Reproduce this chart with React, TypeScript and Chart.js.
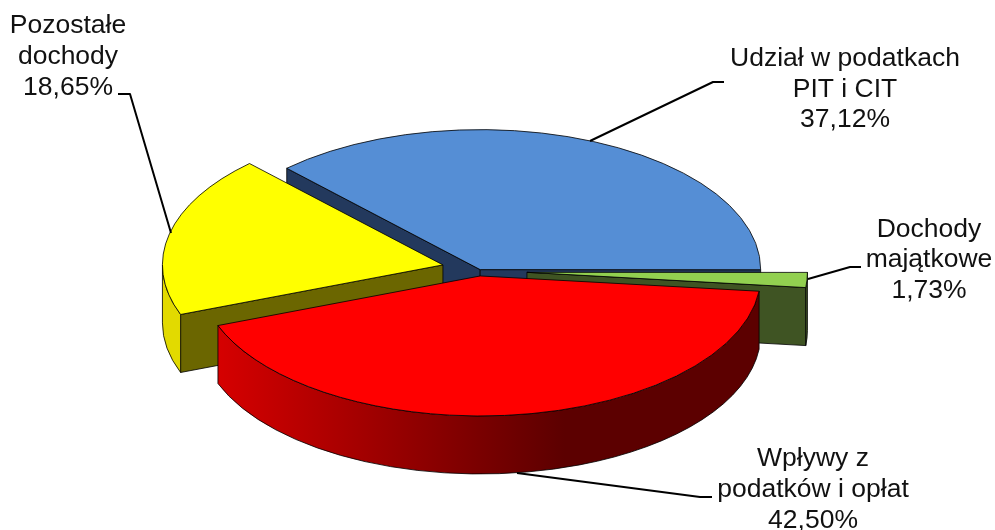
import { useEffect, useRef } from "react";
import { Chart, registerables } from "chart.js";

Chart.register(...registerables);

// ---- data ----
const categories = ["Udział w podatkach PIT i CIT", "Dochody majątkowe", "Wpływy z podatków i opłat", "Pozostałe dochody"];
const labelLines = [
  ["Udział w podatkach", "PIT i CIT"],
  ["Dochody", "majątkowe"],
  ["Wpływy z", "podatków i opłat"],
  ["Pozostałe", "dochody"],
];
const shares = [37.12, 1.73, 42.5, 18.65];
const explosion = [3, 48, 10, 37];

// ---- styles ----
const liftY = [0, 0, 0, -2];
const topColors = ["#558ed5", "#92d050", "#ff0000", "#ffff00"];
const cutColors = ["#23395d", "#3f5423", "#7f0000", "#6b6600"];
const FONT = '26.5px "Liberation Sans", Arial, sans-serif';
const view = { cx: 479, cy: 271, rx: 280.5, ry: 140, depth: 58, rotation: -43.6 };
const leaders = [
  [[590, 141], [713, 82], [724, 82]],
  [[808, 279], [850, 267], [861, 267]],
  [[517, 473], [700, 497], [712, 497]],
  [[118, 94], [130, 94], [171, 233]],
];
const labelPlaces = [
  { x: 845, ys: [66, 97, 127] },
  { x: 929, ys: [237, 267, 298] },
  { x: 813, ys: [466, 497, 528] },
  { x: 68, ys: [33, 64, 95] },
];
const drawOrder = [0, 1, 3, 2];

const pie3d = {
  id: "pie3d",
  beforeDatasetsDraw(chart: any) {
    const ctx: CanvasRenderingContext2D = chart.ctx;
    const arcs = chart.getDatasetMeta(0).data;
    const { rx, ry, depth } = view;
    const edge = "rgba(0,0,0,0.8)";

    for (const i of drawOrder) {
      const arc = arcs[i];
      const a0: number = arc.startAngle;
      const a1: number = arc.endAngle;
      const mid = (a0 + a1) / 2;
      const ox = view.cx + explosion[i] * Math.cos(mid);
      const oy = view.cy + explosion[i] * Math.sin(mid) * 0.5 + liftY[i];
      const pt = (a: number) => [ox + rx * Math.cos(a), oy + ry * Math.sin(a)];

      ctx.save();
      ctx.lineWidth = 1;
      ctx.strokeStyle = edge;
      ctx.lineJoin = "round";

      // radial cut faces that turn towards the viewer
      const faces: number[] = [];
      if (-Math.cos(a0) > 0) faces.push(a0);
      if (Math.cos(a1) > 0) faces.push(a1);
      for (const a of faces) {
        const [x, y] = pt(a);
        ctx.beginPath();
        ctx.moveTo(ox, oy);
        ctx.lineTo(x, y);
        ctx.lineTo(x, y + depth);
        ctx.lineTo(ox, oy + depth);
        ctx.closePath();
        ctx.fillStyle = cutColors[i];
        ctx.fill();
        ctx.stroke();
      }

      // visible outer wall: the part of the rim on the viewer's side
      const TAU = Math.PI * 2;
      let s = a0;
      let e = a1;
      while (s < 0) { s += TAU; e += TAU; }
      const ws = s;
      const we = Math.min(e, Math.PI);
      if (ws < Math.PI && we > ws) {
        ctx.beginPath();
        ctx.ellipse(ox, oy, rx, ry, 0, ws, we);
        ctx.ellipse(ox, oy + depth, rx, ry, 0, we, ws, true);
        ctx.closePath();
        if (i === 2) {
          const g = ctx.createLinearGradient(ox - rx, 0, ox + rx, 0);
          g.addColorStop(0, "#dc0000");
          g.addColorStop(0.65, "#5c0000");
          g.addColorStop(1, "#5c0000");
          ctx.fillStyle = g;
        } else if (i === 3) {
          ctx.fillStyle = "#e2da00";
        } else {
          ctx.fillStyle = cutColors[i];
        }
        ctx.fill();
        ctx.stroke();
      }

      // top face: the library's own arc, seen at an angle
      ctx.save();
      ctx.translate(ox, oy);
      ctx.scale(rx / arc.outerRadius, ry / arc.outerRadius);
      ctx.translate(-arc.x, -arc.y);
      arc.draw(ctx);
      ctx.restore();

      ctx.beginPath();
      ctx.moveTo(ox, oy);
      ctx.ellipse(ox, oy, rx, ry, 0, a0, a1);
      ctx.closePath();
      ctx.stroke();
      ctx.restore();
    }

    // leader lines
    ctx.save();
    ctx.strokeStyle = "#000";
    ctx.lineWidth = 2;
    ctx.lineJoin = "round";
    for (const pts of leaders) {
      ctx.beginPath();
      pts.forEach(([x, y], k) => (k ? ctx.lineTo(x, y) : ctx.moveTo(x, y)));
      ctx.stroke();
    }

    // labels
    ctx.fillStyle = "#111";
    ctx.font = FONT;
    ctx.textAlign = "center";
    ctx.textBaseline = "alphabetic";
    labelLines.forEach((lines, i) => {
      const place = labelPlaces[i];
      const text = [...lines, shares[i].toFixed(2).replace(".", ",") + "%"];
      text.forEach((t, k) => ctx.fillText(t, place.x, place.ys[k]));
    });
    ctx.restore();
    return false;
  },
};

export default function App() {
  const ref = useRef<HTMLCanvasElement>(null);
  useEffect(() => {
    document.body.style.margin = "0";
    document.body.style.background = "#fff";
    const chart = new Chart(ref.current!, {
      type: "pie",
      data: {
        labels: categories,
        datasets: [{ data: shares, backgroundColor: topColors, borderWidth: 0 }],
      },
      options: {
        animation: false,
        responsive: false,
        rotation: view.rotation,
        plugins: { legend: { display: false }, tooltip: { enabled: false } },
      },
      plugins: [pie3d],
    } as any);
    return () => chart.destroy();
  }, []);
  return <canvas ref={ref} width={995} height={530} style={{ display: "block" }} />;
}
